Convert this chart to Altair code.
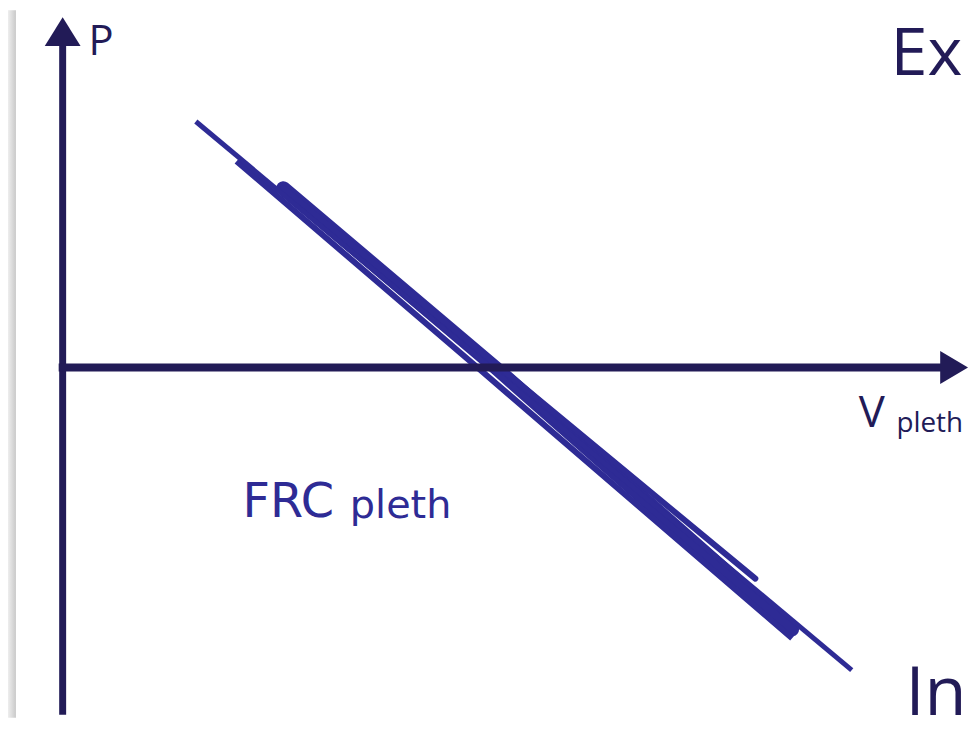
import altair as alt
import pandas as pd

# ---- data (diagram coordinates, pixels of the reference) ----
trace_ids = ["A", "A", "N", "N", "N", "W", "W", "W", "U", "U"]
trace_order = [0, 1, 0, 1, 2, 0, 1, 2, 0, 1]
trace_x = [197, 857, 238, 481, 797, 285, 499, 797, 285, 760]
trace_y = [120, 672, 160, 368, 640, 187, 368, 631, 187, 580]

axis_names = ["P-axis", "V-axis"]
axis_x1 = [63, 59]
axis_x2 = [63, 950]
axis_y1 = [717, 367.5]
axis_y2 = [40, 367.5]

head_names = ["up", "right"]
head_x = [63, 960]
head_y = [29.5, 367.5]

label_text = ["P", "Ex", "In", "V", "pleth", "FRC", "pleth"]
label_x = [89, 896, 911, 864, 902, 244, 352]
label_y = [53, 73, 717, 427, 432, 518, 519]

NAVY = "#221b57"
BLUE = "#2e2b95"

traces = pd.DataFrame({"id": trace_ids, "o": trace_order, "x": trace_x, "y": trace_y})
axes = pd.DataFrame({"name": axis_names, "x": axis_x1, "x2": axis_x2, "y": axis_y1, "y2": axis_y2})
heads = pd.DataFrame({"name": head_names, "x": head_x, "y": head_y})
labels = pd.DataFrame({"t": label_text, "x": label_x, "y": label_y, "i": list(range(len(label_text)))})

XS = alt.Scale(domain=[8, 976], nice=False, zero=False)
YS = alt.Scale(domain=[8, 720], nice=False, zero=False, reverse=True)


def X(f="x"):
    return alt.X(f"{f}:Q", scale=XS, axis=None)


def Y(f="y"):
    return alt.Y(f"{f}:Q", scale=YS, axis=None)


shadow = alt.Chart(pd.DataFrame({"a": [0]})).mark_rect(
    color=alt.LinearGradient(
        gradient="linear",
        stops=[alt.GradientStop(color="#eeeeee", offset=0),
               alt.GradientStop(color="#c9c9c9", offset=1)],
        x1=0, x2=1, y1=0, y2=0,
    )
).encode(x=alt.value(0), x2=alt.value(8), y=alt.value(0), y2=alt.value(712))

axis_rules = alt.Chart(axes).mark_rule(color=NAVY, strokeCap="butt").encode(
    x=X(), x2="x2:Q", y=Y(), y2="y2:Q",
    strokeWidth=alt.condition(alt.datum.name == "P-axis", alt.value(7), alt.value(8)),
)

up_head = alt.Chart(heads).transform_filter(alt.datum.name == "up").mark_point(
    shape="M0,-0.806L1,0.806L-1,0.806Z", size=1296, filled=True, color=NAVY, opacity=1, strokeWidth=0
).encode(x=X(), y=Y())

right_head = alt.Chart(heads).transform_filter(alt.datum.name == "right").mark_point(
    shape="M0.848,0L-0.848,-1L-0.848,1Z", size=1089, filled=True, color=NAVY, opacity=1, strokeWidth=0
).encode(x=X(), y=Y())


def trace(tid, width, cap):
    return alt.Chart(traces).transform_filter(alt.datum.id == tid).mark_line(
        color=BLUE, strokeWidth=width, strokeCap=cap, strokeJoin="round"
    ).encode(x=X(), y=Y(), order="o:Q")


def label(i, size, color, font="Open Sans"):
    return alt.Chart(labels).transform_filter(alt.datum.i == i).mark_text(
        font=font, fontSize=size, color=color, align="left", baseline="alphabetic"
    ).encode(x=X(), y=Y(), text="t:N")


chart = alt.layer(
    shadow,
    trace("W", 14, "round"),
    trace("N", 6, "butt"),
    trace("U", 6, "round"),
    trace("A", 5, "butt"),
    axis_rules,
    up_head,
    right_head,
    label(0, 42, NAVY),
    label(1, 67, NAVY),
    label(2, 69, NAVY),
    label(3, 44, NAVY),
    label(4, 28, NAVY),
    label(5, 48, BLUE, "DejaVu Sans"),
    label(6, 40, BLUE, "DejaVu Sans"),
).properties(
    width=968, height=712, padding=0,
    autosize=alt.AutoSizeParams(type="none"),
).configure_view(stroke=None)

chart.save("out.html", embed_options={"renderer": "svg", "actions": False})
